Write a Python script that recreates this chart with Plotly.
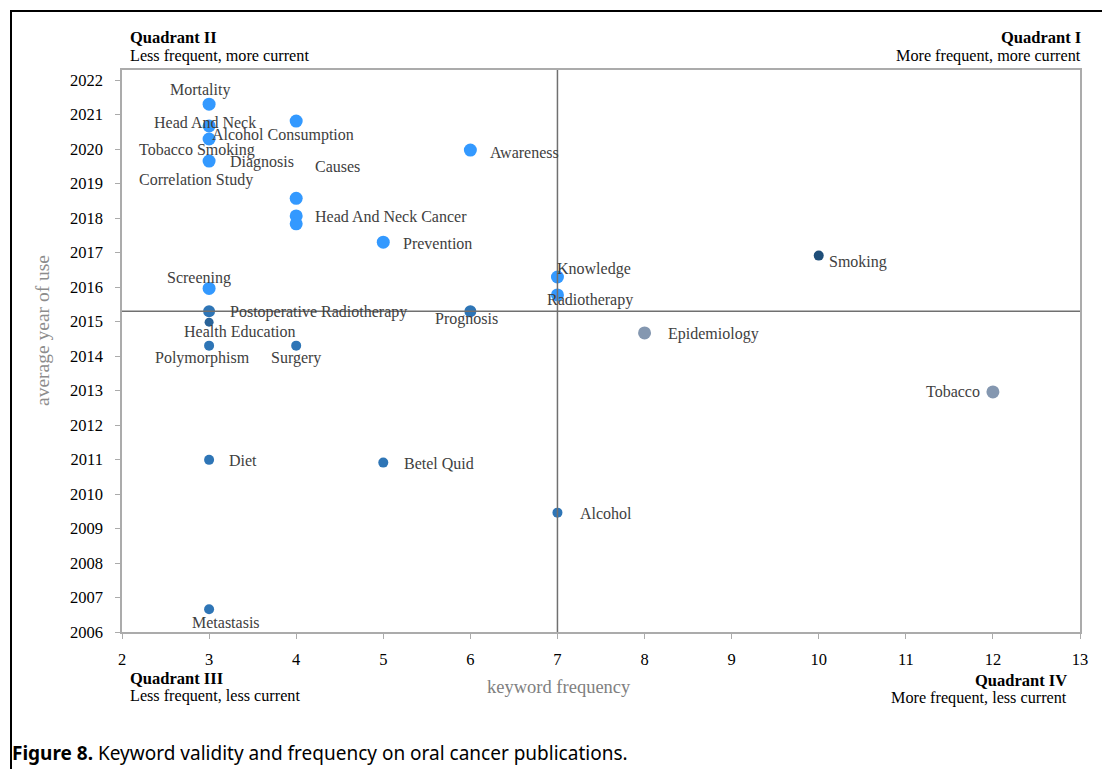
import plotly.graph_objects as go

# Keyword map: frequency vs. average year of use
keywords = [
    "Mortality", "Head And Neck", "Tobacco Smoking", "Diagnosis",
    "Alcohol Consumption", "Causes", "Head And Neck Cancer", "Correlation Study",
    "Awareness", "Prevention", "Knowledge", "Radiotherapy", "Screening",
    "Postoperative Radiotherapy", "Prognosis", "Health Education", "Polymorphism",
    "Surgery", "Diet", "Betel Quid", "Alcohol", "Metastasis",
    "Smoking", "Epidemiology", "Tobacco",
]
frequency = [3, 3, 3, 3, 4, 4, 4, 4, 6, 5, 7, 7, 3, 3, 6, 3, 3, 4, 3, 5, 7, 3, 10, 8, 12]
avg_year = [
    2021.30, 2020.67, 2020.29, 2019.65,
    2020.81, 2018.57, 2018.06, 2017.83,
    2019.97, 2017.30, 2016.29, 2015.77, 2015.96,
    2015.30, 2015.30, 2014.98, 2014.30,
    2014.30, 2010.99, 2010.91, 2009.46, 2006.66,
    2016.91, 2014.67, 2012.96,
]

x_ticks = list(range(2, 14))
y_ticks = list(range(2006, 2023))
freq_split = 7
year_split = 2015.3

# marker styling per keyword
LIGHT, MID, DEEP, NAVY, GREY = "#3399FF", "#2E75B6", "#2A6399", "#1F4E79", "#8497B0"
marker_colors = [LIGHT] * 13 + [MID, MID, DEEP, MID, MID, MID, MID, MID, MID, NAVY, GREY, GREY]
marker_sizes = [13] * 13 + [12, 12, 9, 10, 10, 10, 10, 10, 10, 10, 13, 13]

# label placement relative to each marker: (dx px, dy px downward, anchor)
label_offsets = [
    (-9, -14, "center"), (-4, -3, "center"), (-12, 11, "center"), (19, 1, "left"),
    (-13, 14, "center"), (17, -32, "left"), (17, 1, "left"), (-100, -44, "center"),
    (18, 2, "left"), (18, 1, "left"), (-2, -8, "left"), (-12, 5, "left"), (-10, -10, "center"),
    (19, 1, "left"), (-4, 8, "center"), (31, 9, "center"), (-7, 12, "center"),
    (0, 12, "center"), (18, 1, "left"), (19, 1, "left"), (21, 1, "left"), (17, 13, "center"),
    (8, 6, "left"), (21, 1, "left"), (-11, 0, "right"),
]

W, H = 1102, 769
ML, MR, MT, MB = 122, 22, 70, 137
PW, PH = W - ML - MR, H - MT - MB


def px(x):
    return (x - ML) / PW


def py(y):
    return (H - MB - y) / PH


SERIF = "Liberation Serif"
fig = go.Figure()
fig.add_trace(go.Scatter(
    x=frequency, y=avg_year, mode="markers",
    marker=dict(color=marker_colors, size=marker_sizes, opacity=1, line=dict(width=0)),
    hovertext=keywords, hoverinfo="text", showlegend=False,
))

annotations = []
for name, fx, fy, (dx, dy, anc) in zip(keywords, frequency, avg_year, label_offsets):
    annotations.append(dict(
        x=fx, y=fy, xref="x", yref="y", text=name, showarrow=False,
        xanchor=anc, yanchor="middle", xshift=dx, yshift=-dy,
        font=dict(family=SERIF, size=16, color="#404040"),
    ))

quad_font_b = dict(family=SERIF, size=16.5, color="#000000")
quad_font = dict(family=SERIF, size=16.2, color="#000000")
quadrants = [
    ("<b>Quadrant II</b>", 128, 38, "left"),
    ("Less frequent, more current", 128, 56, "left"),
    ("<b>Quadrant I</b>", 1083, 38, "right"),
    ("More frequent, more current", 1083, 56, "right"),
    ("<b>Quadrant III</b>", 128, 678, "left"),
    ("Less frequent, less current", 128, 696, "left"),
    ("<b>Quadrant IV</b>", 1069, 680, "right"),
    ("More frequent, less current", 1069, 698, "right"),
]
for text, x, y, anc in quadrants:
    annotations.append(dict(
        x=px(x), y=py(y), xref="paper", yref="paper", text=text, showarrow=False,
        xanchor=anc, yanchor="middle", font=quad_font_b if "<b>" in text else quad_font,
    ))

# axis titles
annotations.append(dict(
    x=px(559), y=py(687), xref="paper", yref="paper", text="keyword frequency",
    showarrow=False, xanchor="center", yanchor="middle",
    font=dict(family=SERIF, size=18.5, color="#808080"),
))
annotations.append(dict(
    x=px(42), y=py(331), xref="paper", yref="paper", text="average year of use",
    showarrow=False, xanchor="center", yanchor="middle", textangle=-90,
    font=dict(family=SERIF, size=19.5, color="#8C8C8C"),
))

# caption
annotations.append(dict(
    x=px(10), y=py(753), xref="paper", yref="paper",
    text="<b>Figure 8.</b> Keyword validity and frequency on oral cancer publications.",
    showarrow=False, xanchor="left", yanchor="middle",
    font=dict(family="Noto Sans", size=19, color="#000000"),
))

shapes = [
    # quadrant dividers
    dict(type="line", xref="x", yref="paper", x0=freq_split, x1=freq_split, y0=0, y1=1,
         line=dict(color="#707070", width=1.5)),
    dict(type="line", xref="paper", yref="y", x0=0, x1=1, y0=year_split, y1=year_split,
         line=dict(color="#707070", width=1.5)),
    # figure frame
    dict(type="path", xref="paper", yref="paper",
         path=f"M {px(11)} {py(H + 5)} L {px(11)} {py(11)} L {px(W + 5)} {py(11)}",
         line=dict(color="#000000", width=2)),
]

fig.update_layout(
    width=W, height=H,
    margin=dict(l=ML, r=MR, t=MT, b=MB),
    paper_bgcolor="white", plot_bgcolor="white",
    annotations=annotations, shapes=shapes,
    xaxis=dict(
        range=[2, 13], tickvals=x_ticks, showgrid=False, zeroline=False,
        showline=True, mirror=True, linecolor="#ABABAB", linewidth=1.5,
        ticks="outside", ticklen=5, tickcolor="#ABABAB", ticklabelstandoff=6,
        tickfont=dict(family=SERIF, size=16.5, color="#000000"),
    ),
    yaxis=dict(
        range=[2006, 2006 + PH / 34.5], tickvals=y_ticks, showgrid=False, zeroline=False,
        showline=True, mirror=True, linecolor="#ABABAB", linewidth=1.5,
        ticks="outside", ticklen=5, tickcolor="#ABABAB", ticklabelstandoff=9,
        tickfont=dict(family=SERIF, size=16.5, color="#000000"),
    ),
    font=dict(family=SERIF),
)

fig.write_html("out.html")
